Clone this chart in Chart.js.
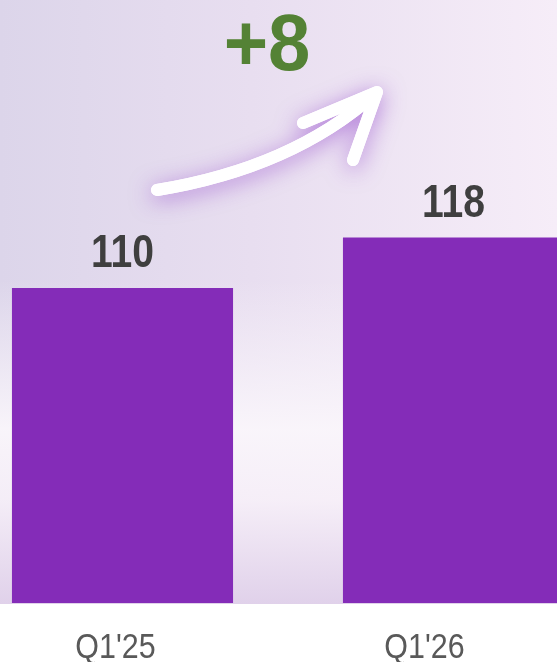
<!DOCTYPE html>
<html>
<head>
<meta charset="utf-8">
<script src="https://cdn.jsdelivr.net/npm/chart.js@4.4.1/dist/chart.umd.min.js"></script>
<style>
  html, body { margin: 0; padding: 0; }
  body {
    width: 557px; height: 662px; overflow: hidden; position: relative;
    background: #ffffff;
  }
  #bg {
    position: absolute; left: 0; top: 0; width: 557px; height: 604px;
    background:
      linear-gradient(to bottom,
        rgba(250,246,251,0) 0px,
        rgba(250,246,251,0) 280px,
        rgba(250,246,251,0.95) 430px,
        rgba(248,241,249,0.85) 500px,
        rgba(224,209,234,1) 604px),
      linear-gradient(to right, #dcd5ea 0%, #e8def0 45%, #f6edf8 100%);
  }
  #wrap { position: absolute; left: -43px; top: 0; width: 662px; height: 662px; }
</style>
</head>
<body>
<div id="bg"></div>
<div id="wrap"><canvas id="c"></canvas></div>
<script>
const categories = ["Q1'25", "Q1'26"];
const values = [110, 118];
const yMin = 60;
const yMax = 155.7;
const changeText = (values[1] - values[0] >= 0 ? '+' : '') + (values[1] - values[0]);

const BAR = '#842cb8';
const FONT = '"Liberation Sans", Arial, sans-serif';

function narrowText(ctx, text, x, y, sx) {
  ctx.save();
  ctx.translate(x, y);
  ctx.scale(sx, 1);
  ctx.fillText(text, 0, 0);
  ctx.restore();
}

const decor = {
  id: 'decor',
  afterDraw(chart) {
    const ctx = chart.ctx;
    const meta = chart.getDatasetMeta(0);
    const area = chart.chartArea;
    ctx.save();
    ctx.textAlign = 'center';
    ctx.textBaseline = 'alphabetic';
    // value labels
    ctx.fillStyle = '#3f3f3f';
    ctx.font = 'bold 46px ' + FONT;
    meta.data.forEach((bar, i) => {
      narrowText(ctx, String(values[i]), bar.x, bar.y - 21, 0.85);
    });
    // category labels
    const shifts = [-7, -29];
    ctx.fillStyle = '#595959';
    ctx.font = '35px ' + FONT;
    meta.data.forEach((bar, i) => {
      narrowText(ctx, categories[i], bar.x + shifts[i], area.bottom + 55, 0.87);
    });
    // change label
    ctx.fillStyle = '#548235';
    ctx.font = 'bold 80px ' + FONT;
    narrowText(ctx, changeText, 310, 70, 0.95);
    // arrow
    const drawArrow = () => {
      ctx.beginPath();
      ctx.moveTo(200, 190);
      ctx.quadraticCurveTo(335, 168, 418, 94);
      ctx.moveTo(346, 123);
      ctx.lineTo(420, 92);
      ctx.lineTo(396, 160);
      ctx.stroke();
    };
    ctx.lineCap = 'round';
    ctx.lineJoin = 'round';
    ctx.strokeStyle = '#ffffff';
    ctx.lineWidth = 12;
    ctx.shadowColor = 'rgba(140,60,200,0.6)';
    ctx.shadowBlur = 22;
    ctx.shadowOffsetY = 4;
    drawArrow();
    ctx.shadowColor = 'rgba(0,0,0,0)';
    ctx.shadowBlur = 0;
    ctx.shadowOffsetY = 0;
    drawArrow();
    ctx.restore();
  }
};

new Chart(document.getElementById('c'), {
  type: 'bar',
  data: {
    labels: categories,
    datasets: [{
      data: values,
      backgroundColor: BAR,
      borderWidth: 0,
      categoryPercentage: 1,
      barPercentage: 0.668
    }]
  },
  options: {
    responsive: true,
    maintainAspectRatio: false,
    devicePixelRatio: 1,
    animation: false,
    layout: { padding: { top: 0, left: 0, right: 0, bottom: 59 } },
    plugins: { legend: { display: false }, tooltip: { enabled: false } },
    scales: {
      x: { display: false },
      y: { display: false, min: yMin, max: yMax }
    }
  },
  plugins: [decor]
});
</script>
</body>
</html>
